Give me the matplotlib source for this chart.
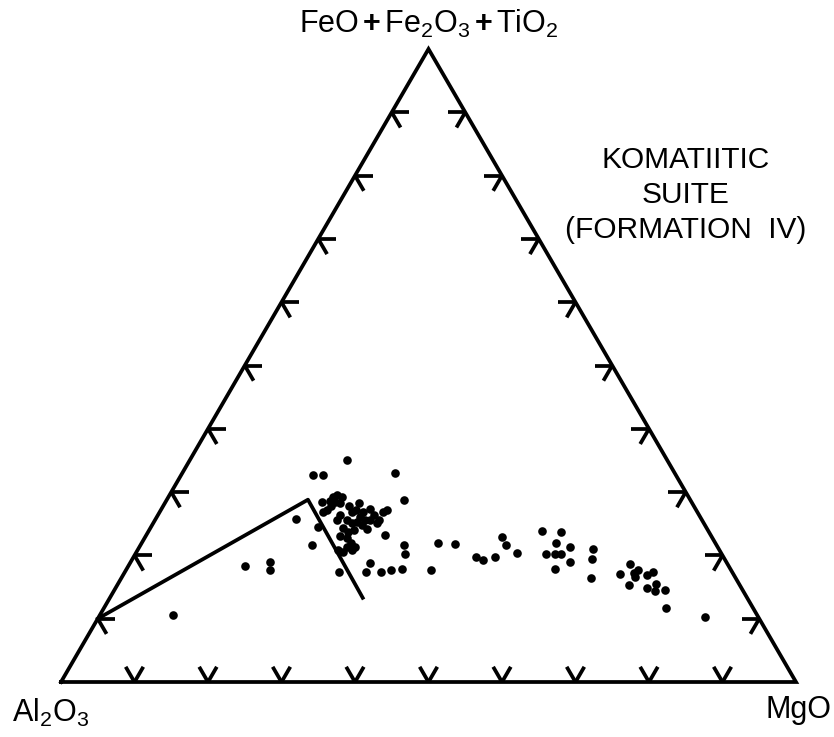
import matplotlib
matplotlib.use("Agg")
import matplotlib.pyplot as plt
import numpy as np

plt.rcParams['font.family'] = ['Liberation Sans', 'DejaVu Sans']
plt.rcParams['mathtext.fontset'] = 'custom'
plt.rcParams['mathtext.rm'] = 'Liberation Sans'
plt.rcParams['mathtext.it'] = 'Liberation Sans'
plt.rcParams['mathtext.bf'] = 'Liberation Sans:bold'

# sample compositions (wt %, normalised): FeO+Fe2O3+TiO2 and MgO, rest is Al2O3
feo_tot = [35.0, 32.7, 32.7, 33.0, 28.8, 28.3, 25.8, 24.5, 21.6, 23.2,
           21.6, 20.3, 21.9, 18.8, 17.4, 17.4, 17.7, 17.8, 17.7, 17.3,
           21.8, 19.7, 19.3, 19.7, 22.9, 21.6, 20.4, 23.9, 23.7, 21.9,
           21.4, 20.3, 20.3, 20.3, 18.9, 17.9, 21.0, 19.5, 16.5, 18.6,
           17.0, 17.7, 16.6, 16.9, 17.3, 15.3, 14.8, 15.5, 14.4, 14.6,
           11.7, 10.3, 18.4, 18.9, 17.7, 10.6, 17.2,
           29.3, 29.5, 29.2, 28.6, 28.5, 28.5, 28.3, 27.8, 27.8, 27.2,
           27.2, 26.9, 26.9, 26.9, 26.9, 27.4, 26.4, 26.4, 25.6, 25.6,
           25.6, 25.6, 25.6, 27.1, 25.1, 25.1, 25.3, 24.8, 24.1, 24.4,
           23.7, 24.0, 23.0, 22.7, 22.0, 21.4, 21.3, 20.9, 20.9, 20.6,
           26.1]
mgo = [21.4, 17.9, 19.3, 29.0, 32.3, 26.4, 19.1, 22.7, 23.4, 32.5,
       35.9, 36.6, 40.3, 32.6, 32.8, 34.9, 36.1, 37.5, 41.5, 29.2,
       42.7, 46.6, 47.7, 49.2, 48.6, 49.7, 51.9, 53.5, 56.2, 56.4,
       58.5, 55.8, 57.1, 57.9, 59.8, 58.2, 61.9, 62.5, 63.9, 68.1,
       67.6, 69.6, 69.8, 71.3, 71.9, 69.6, 72.3, 73.2, 73.6, 74.9,
       76.5, 82.5, 15.8, 19.0, 19.6, 9.9, 69.3,
       22.4, 22.8, 23.6, 22.3, 23.0, 21.2, 23.8, 22.9, 25.3, 22.6,
       26.6, 22.2, 26.1, 27.7, 30.4, 28.3, 29.4, 24.8, 30.4, 26.1,
       29.2, 24.7, 28.6, 30.8, 27.0, 30.4, 27.6, 28.5, 29.6, 26.2,
       27.2, 27.8, 26.5, 27.5, 28.5, 29.3, 28.2, 27.2, 29.1, 28.1,
       27.6]

# trend line drawn on the diagram
trend_feo = [10.0, 28.8, 13.3]
trend_mgo = [0.0, 19.2, 34.4]

tick_pct = [10, 20, 30, 40, 50, 60, 70, 80, 90]


def tern(f, m):
    f = np.asarray(f) / 100.0
    m = np.asarray(m) / 100.0
    return m + f / 2.0, f * np.sqrt(3) / 2.0


fig = plt.figure(figsize=(8.34, 7.37), dpi=100)
ax = fig.add_axes([0, 0, 1, 1])
ax.set_xlim(-61 / 735, (834 - 61) / 735)
ysc = 633 / (np.sqrt(3) / 2)
ax.set_ylim(-55 / ysc, 682 / ysc)
ax.axis('off')

lw = 2.7
h = np.sqrt(3) / 2
ax.plot([0, 1, 0.5, 0], [0, 0, h, 0], color='black', lw=lw,
        solid_joinstyle='miter', clip_on=False)

# chevron ticks along the three edges
L = 0.024
c60, s60 = 0.5, h
for p in tick_pct:
    # bottom edge
    x0, y0 = tern(0, p)
    for dx, dy in [(c60, s60), (-c60, s60)]:
        ax.plot([x0, x0 + L * dx], [y0, y0 + L * dy], color='black', lw=lw,
                solid_capstyle='butt')
    # left edge
    x0, y0 = tern(p, 0)
    for dx, dy in [(1, 0), (c60, -s60)]:
        ax.plot([x0, x0 + L * dx], [y0, y0 + L * dy], color='black', lw=lw,
                solid_capstyle='butt')
    # right edge
    x0, y0 = tern(p, 100 - p)
    for dx, dy in [(-1, 0), (-c60, -s60)]:
        ax.plot([x0, x0 + L * dx], [y0, y0 + L * dy], color='black', lw=lw,
                solid_capstyle='butt')

tx, ty = tern(trend_feo, trend_mgo)
ax.plot(tx, ty, color='black', lw=lw, solid_joinstyle='round')

px, py = tern(feo_tot, mgo)
ax.plot(px, py, 'o', color='black', markersize=6.2, markeredgewidth=0)

# labels
fs = 22
ax.text(0.5, (682 - 24) / ysc,
        r'FeO$\,\mathbf{+}\,$Fe$_\mathrm{2}$O$_\mathrm{3}$$\,\mathbf{+}\,$TiO$_\mathrm{2}$',
        ha='center', va='center', fontsize=fs)
ax.text(-61 / 735 + 12 / 735, (682 - 713) / ysc, r'Al$_\mathrm{2}$O$_\mathrm{3}$',
        ha='left', va='center', fontsize=fs)
ax.text((831 - 61) / 735, (682 - 710) / ysc, 'MgO', ha='right', va='center', fontsize=fs)
ax.text((686 - 61) / 735, (682 - 195) / ysc, 'KOMATIITIC\nSUITE\n(FORMATION  IV)',
        ha='center', va='center', fontsize=21.5, linespacing=1.3)

fig.savefig('out.png', dpi=100)
